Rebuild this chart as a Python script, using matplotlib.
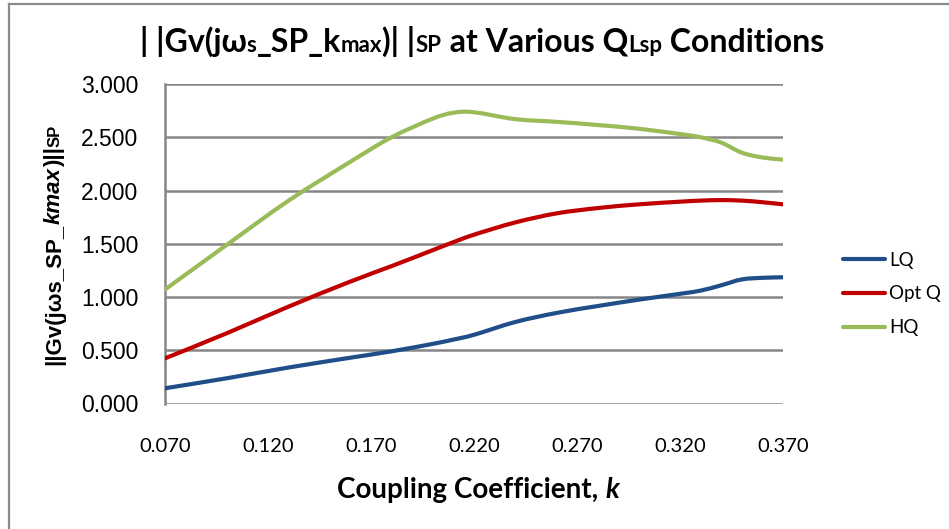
import matplotlib
matplotlib.use("Agg")
import matplotlib.pyplot as plt
from matplotlib.lines import Line2D
from matplotlib.path import Path
from matplotlib.patches import PathPatch
from matplotlib.transforms import offset_copy

# Coupling coefficient k (x values)
k_values = [0.07, 0.10, 0.13, 0.16, 0.18, 0.20, 0.21, 0.22, 0.24, 0.26,
            0.28, 0.30, 0.32, 0.33, 0.34, 0.35, 0.36, 0.37]

# ||Gv|| for each Q condition
lq = [0.143, 0.237, 0.338, 0.430, 0.490, 0.560, 0.600, 0.645, 0.765, 0.850,
      0.915, 0.975, 1.030, 1.060, 1.110, 1.165, 1.180, 1.185]
opt_q = [0.424, 0.660, 0.910, 1.145, 1.290, 1.440, 1.515, 1.585, 1.700, 1.785,
         1.835, 1.870, 1.895, 1.905, 1.910, 1.905, 1.890, 1.870]
hq = [1.070, 1.490, 1.905, 2.270, 2.500, 2.675, 2.730, 2.735, 2.670, 2.645,
      2.615, 2.580, 2.530, 2.500, 2.450, 2.355, 2.310, 2.290]

series_names = ["LQ", "Opt Q", "HQ"]
series_colors = ["#1F4E89", "#C00000", "#9BBB59"]

x_ticks = [0.07, 0.12, 0.17, 0.22, 0.27, 0.32, 0.37]
y_ticks = [0.0, 0.5, 1.0, 1.5, 2.0, 2.5, 3.0]

CAL = ["Lato", "DejaVu Sans"]
ARI = ["Liberation Sans", "DejaVu Sans"]


def smooth_path(xs, ys, tension=1 / 6):
    """Excel-style smoothed line: Catmull-Rom segments as cubic Beziers."""
    pts = list(zip(xs, ys))
    verts = [pts[0]]
    codes = [Path.MOVETO]
    n = len(pts)
    for i in range(n - 1):
        p0 = pts[max(i - 1, 0)]
        p1 = pts[i]
        p2 = pts[i + 1]
        p3 = pts[min(i + 2, n - 1)]
        c1 = (p1[0] + (p2[0] - p0[0]) * tension, p1[1] + (p2[1] - p0[1]) * tension)
        c2 = (p2[0] - (p3[0] - p1[0]) * tension, p2[1] - (p3[1] - p1[1]) * tension)
        verts += [c1, c2, p2]
        codes += [Path.CURVE4] * 3
    return Path(verts, codes)


def rich_text(fig, x, y, pieces, vertical=False):
    """Draw text pieces of different sizes/styles on one baseline, centred at (x, y)."""
    renderer = fig.canvas.get_renderer()
    widths = []
    for txt, kw in pieces:
        t = fig.text(0, 0, txt, **kw)
        widths.append(t.get_window_extent(renderer).width)
        t.remove()
    total = sum(widths)
    pos = -total / 2.0
    for (txt, kw), w in zip(pieces, widths):
        if vertical:
            tr = offset_copy(fig.transFigure, fig=fig, x=0, y=pos * 72 / fig.dpi, units="points")
            fig.text(x, y, txt, transform=tr, rotation=90, rotation_mode="anchor",
                     ha="left", va="baseline", **kw)
        else:
            tr = offset_copy(fig.transFigure, fig=fig, x=pos * 72 / fig.dpi, y=0, units="points")
            fig.text(x, y, txt, transform=tr, ha="left", va="baseline", **kw)
        pos += w


W, H = 949, 529
fig = plt.figure(figsize=(W / 100, H / 100), dpi=100)
ax = fig.add_axes([165 / W, 1 - 403.5 / H, (783 - 165) / W, (403.5 - 84) / H])

for vals, name, col in zip([lq, opt_q, hq], series_names, series_colors):
    patch = PathPatch(smooth_path(k_values, vals), facecolor="none", edgecolor=col,
                      lw=3.0, capstyle="round", joinstyle="round", zorder=3)
    ax.add_patch(patch)

ax.set_xlim(0.07, 0.37)
ax.set_ylim(0, 3.0)
ax.set_xticks(x_ticks)
ax.set_xticklabels([f"{v:.3f}" for v in x_ticks], family=CAL, fontsize=14.5)
ax.set_yticks(y_ticks)
ax.set_yticklabels([f"{v:.3f}" for v in y_ticks], family=ARI, fontsize=16.5)
ax.tick_params(axis="x", length=0, pad=25)
ax.tick_params(axis="y", length=0, pad=19)
ax.yaxis.grid(True, color="#868686", lw=1.8, zorder=1)
ax.set_axisbelow(True)
for side in ["top", "right", "bottom"]:
    ax.spines[side].set_visible(False)
ax.spines["left"].set_color("#868686")
ax.spines["left"].set_linewidth(1.8)

# figure border (top and left edges visible)
fig.add_artist(Line2D([8.5 / W, 8.5 / W], [0, 1 - 4 / H], color="#8C8C8C", lw=1.6,
                      transform=fig.transFigure))
fig.add_artist(Line2D([8.5 / W, 1], [1 - 4 / H, 1 - 4 / H], color="#8C8C8C", lw=1.6,
                      transform=fig.transFigure))

# legend
handles = [Line2D([], [], color=c, lw=3.0, solid_capstyle="round") for c in series_colors]
fig.legend(handles, series_names, loc="center left", bbox_to_anchor=(826 / W, 1 - 294 / H),
           frameon=False, prop={"family": CAL, "size": 13.5}, handlelength=2.25,
           handletextpad=0.2, labelspacing=0.9)

# title
big = {"family": CAL, "size": 23, "weight": "bold"}
small = {"family": CAL, "size": 16, "weight": "bold"}
rich_text(fig, 482 / W, 1 - 52 / H, [
    ("| |Gv(jω", big), ("s", small), ("_SP_k", big), ("max", small), (")| |", big),
    ("SP", small), (" at Various Q", big), ("Lsp", small), (" Conditions", big)])

# x label
xl = {"family": CAL, "size": 20, "weight": "bold"}
rich_text(fig, 478 / W, 1 - 498 / H, [
    ("Coupling Coefficient, ", xl), ("k", dict(xl, style="italic"))])

# y label
yl = {"family": ARI, "size": 16, "weight": "bold"}
ys = {"family": ARI, "size": 12, "weight": "bold"}
rich_text(fig, 60 / W, 1 - 245 / H, [
    ("||Gv(jωs_SP_", yl), ("kmax", dict(yl, style="italic")), (")||", yl), ("SP", ys)],
    vertical=True)

fig.savefig("out.png", dpi=100)
